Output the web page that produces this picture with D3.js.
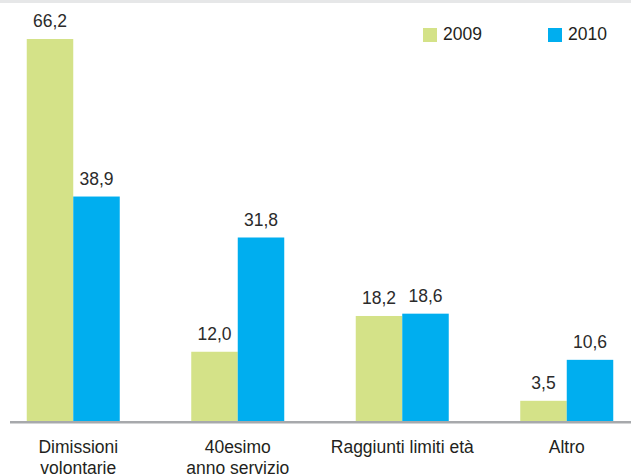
<!DOCTYPE html>
<html>
<head>
<meta charset="utf-8">
<script src="https://cdn.jsdelivr.net/npm/d3@7"></script>
<style>
  body { margin: 0; background: #fff; }
  svg { display: block; font-family: "Liberation Sans", Arial, sans-serif; }
</style>
</head>
<body>
<script>
// data ---------------------------------------------
var categories = [
  ['Dimissioni', 'volontarie'],
  ['40esimo', 'anno servizio'],
  ['Raggiunti limiti età'],
  ['Altro']
];
var series = ['2009', '2010'];
var values2009 = [66.2, 12.0, 18.2, 3.5];
var values2010 = [38.9, 31.8, 18.6, 10.6];

var colors = { '2009': '#d4e288', '2010': '#00aeef' };

var width = 631, height = 476;
var baseY = 421;

var rows = categories.map(function(c, i) {
  return { key: i, label: c, '2009': values2009[i], '2010': values2010[i] };
});

var svg = d3.select('body').append('svg')
  .attr('width', width)
  .attr('height', height);

// light strip at the top
svg.append('rect')
  .attr('x', 0).attr('y', 0)
  .attr('width', width).attr('height', 3)
  .attr('fill', '#e6e7e8');

// scales -------------------------------------------
var x = d3.scaleBand()
  .domain(rows.map(function(d) { return d.key; }))
  .range([-9, 649]);

var xInner = d3.scaleBand()
  .domain(series)
  .range([x.bandwidth() / 2 - 46.5, x.bandwidth() / 2 + 46.5]);

var y = d3.scaleLinear()
  .domain([0, 66.2])
  .range([baseY, 39]);

// bars ---------------------------------------------
var groups = svg.selectAll('g.group')
  .data(rows)
  .enter()
  .append('g')
  .attr('class', 'group')
  .attr('transform', function(d) { return 'translate(' + x(d.key) + ',0)'; });

var bars = groups.selectAll('g.bar')
  .data(function(d) {
    return series.map(function(s) { return { s: s, v: d[s] }; });
  })
  .enter()
  .append('g')
  .attr('class', 'bar');

bars.append('rect')
  .attr('x', function(d) { return xInner(d.s); })
  .attr('y', function(d) { return y(d.v); })
  .attr('width', xInner.bandwidth())
  .attr('height', function(d) { return baseY - y(d.v); })
  .attr('fill', function(d) { return colors[d.s]; });

bars.append('text')
  .attr('x', function(d) { return xInner(d.s) + xInner.bandwidth() / 2; })
  .attr('y', function(d) { return y(d.v) - 12; })
  .attr('text-anchor', 'middle')
  .attr('font-size', 17.5)
  .attr('fill', '#2b2b2b')
  .text(function(d) { return d.v.toFixed(1).replace('.', ','); });

// baseline -----------------------------------------
svg.append('line')
  .attr('x1', 10).attr('x2', width)
  .attr('y1', baseY + 1.3).attr('y2', baseY + 1.3)
  .attr('stroke', '#a7a9ac')
  .attr('stroke-width', 2.6);

// category labels ----------------------------------
var catLabels = svg.selectAll('text.cat')
  .data(rows)
  .enter()
  .append('text')
  .attr('class', 'cat')
  .attr('text-anchor', 'middle')
  .attr('font-size', 17.5)
  .attr('fill', '#231f20')
  .attr('transform', function(d) {
    return 'translate(' + (x(d.key) + x.bandwidth() / 2 + (d.key === 0 ? 5 : 0)) + ',453)';
  });

catLabels.selectAll('tspan')
  .data(function(d) { return d.label; })
  .enter()
  .append('tspan')
  .attr('x', 0)
  .attr('dy', function(d, i) { return i === 0 ? 0 : 21; })
  .text(function(d) { return d; });

// legend -------------------------------------------
var legendX = { '2009': 423, '2010': 548 };
var legend = svg.selectAll('g.legend')
  .data(series)
  .enter()
  .append('g')
  .attr('class', 'legend')
  .attr('transform', function(d) { return 'translate(' + legendX[d] + ',28)'; });

legend.append('rect')
  .attr('width', 14).attr('height', 14)
  .attr('fill', function(d) { return colors[d]; });

legend.append('text')
  .attr('x', 20).attr('y', 12)
  .attr('font-size', 17.5)
  .attr('fill', '#231f20')
  .text(function(d) { return d; });
</script>
</body>
</html>
